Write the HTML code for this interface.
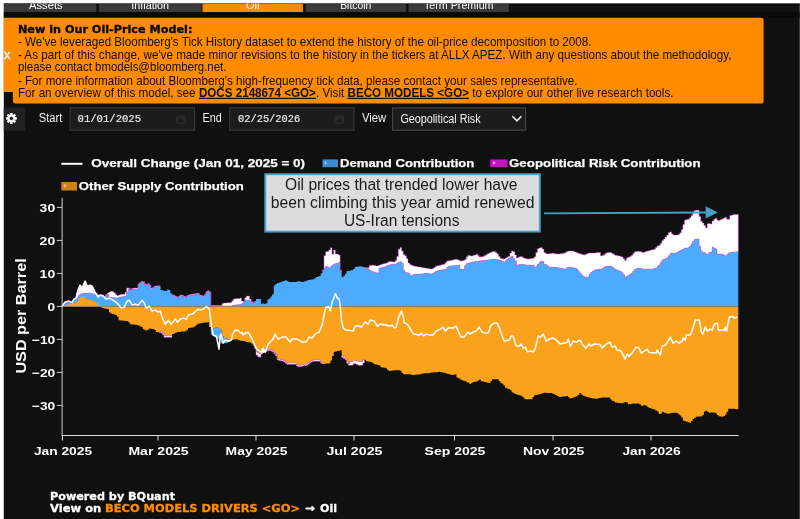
<!DOCTYPE html>
<html><head><meta charset="utf-8"><title>Oil-Price Model</title>
<style>
html,body{margin:0;padding:0;background:#fff;}
body{width:800px;height:519px;overflow:hidden;position:relative;font-family:"Liberation Sans",sans-serif;}
svg{position:absolute;left:0;top:0;display:block}
.b{font-family:"Liberation Sans",sans-serif;font-weight:bold;fill:#fff}
.v{font-family:"DejaVu Sans","Liberation Sans",sans-serif;font-weight:bold}
.t{font-family:"Liberation Sans",sans-serif;fill:#0c0c0c;font-size:11.85px}
.m{font-family:"Liberation Mono",monospace;fill:#ececec;stroke:#ececec;stroke-width:0.2px;font-size:10.6px}
.u{font-family:"Liberation Sans",sans-serif;fill:#f2f2f2;font-size:12.3px}
</style></head><body>
<svg width="800" height="519" viewBox="0 0 800 519">
<rect x="0" y="0" width="800" height="519" fill="#fff"/>
<rect x="3.8" y="3.6" width="796" height="516" fill="#101010"/>

<g id="tabs">
<rect x="3.8" y="3.6" width="796" height="1.2" fill="#050505"/>
<clipPath id="ct"><rect x="3.8" y="3.6" width="796" height="9"/></clipPath><g clip-path="url(#ct)">
<rect x="3.8" y="3.6" width="92.4" height="8.7" fill="#3a3a3a"/>
<text x="29.0" y="8.6" textLength="33.7" lengthAdjust="spacingAndGlyphs" font-family="Liberation Sans, sans-serif" font-size="11.5" fill="#fff">Assets</text>
<rect x="98.9" y="3.6" width="102.6" height="8.7" fill="#3a3a3a"/>
<text x="131.3" y="8.6" textLength="37.7" lengthAdjust="spacingAndGlyphs" font-family="Liberation Sans, sans-serif" font-size="11.5" fill="#fff">Inflation</text>
<rect x="202.5" y="3.6" width="100.4" height="8.7" fill="#ff8c00"/>
<text x="246.0" y="8.6" textLength="13.3" lengthAdjust="spacingAndGlyphs" font-family="Liberation Sans, sans-serif" font-size="11.5" fill="#fff">Oil</text>
<rect x="305.6" y="3.6" width="100.2" height="8.7" fill="#3a3a3a"/>
<text x="340.2" y="8.6" textLength="31.1" lengthAdjust="spacingAndGlyphs" font-family="Liberation Sans, sans-serif" font-size="11.5" fill="#fff">Bitcoin</text>
<rect x="408.5" y="3.6" width="100.5" height="8.7" fill="#3a3a3a"/>
<text x="424.0" y="8.6" textLength="69.5" lengthAdjust="spacingAndGlyphs" font-family="Liberation Sans, sans-serif" font-size="11.5" fill="#fff">Term Premium</text>
</g>
<rect x="3.8" y="12.3" width="796" height="5.4" fill="#0a0a0a"/>
</g>
<path d="M3.8,17.8 H761 Q763.6,17.8 763.6,20.4 V100.9 Q763.6,103.5 761,103.5 H15.6 Q12.9,103.5 12.9,100.8 V92 H3.8 Z" fill="#ff8c00"/>
<clipPath id="cx"><rect x="3.8" y="17" width="20" height="80"/></clipPath>
<text clip-path="url(#cx)" x="3.9" y="59.1" font-family="Liberation Sans, sans-serif" font-size="12.6" fill="#fff" stroke="#fff" stroke-width="0.3">x</text>
<text class="v" x="17.9" y="32.7" font-size="11.2" fill="#0a0a0a" stroke="#0a0a0a" stroke-width="0.35" textLength="174.5" lengthAdjust="spacingAndGlyphs">New in Our Oil-Price Model:</text>
<text class="t" x="17.9" y="45.7" textLength="573.6" lengthAdjust="spacingAndGlyphs">- We've leveraged Bloomberg's Tick History dataset to extend the history of the oil-price decomposition to 2008.</text>
<text class="t" x="17.9" y="59.4" textLength="713.6" lengthAdjust="spacingAndGlyphs">- As part of this change, we've made minor revisions to the history in the tickers at ALLX APEZ. With any questions about the methodology,</text>
<text class="t" x="17.9" y="70.8" textLength="208.6" lengthAdjust="spacingAndGlyphs">please contact bmodels@bloomberg.net.</text>
<text class="t" x="17.9" y="84.9" textLength="559.6" lengthAdjust="spacingAndGlyphs">- For more information about Bloomberg's high-frequency tick data, please contact your sales representative.</text>
<text class="t" x="17.9" y="96.8" textLength="177.7" lengthAdjust="spacingAndGlyphs">For an overview of this model, see</text>
<text class="t" x="198.9" y="96.8" font-weight="bold" text-decoration="underline" textLength="117" lengthAdjust="spacingAndGlyphs">DOCS 2148674 &lt;GO&gt;</text>
<text class="t" x="316" y="96.8" textLength="28.2" lengthAdjust="spacingAndGlyphs">. Visit</text>
<text class="t" x="347.5" y="96.8" font-weight="bold" text-decoration="underline" textLength="121.5" lengthAdjust="spacingAndGlyphs">BECO MODELS &lt;GO&gt;</text>
<text class="t" x="472.3" y="96.8" textLength="201.2" lengthAdjust="spacingAndGlyphs">to explore our other live research tools.</text>
<g id="controls">
<rect x="3.8" y="107.7" width="21.4" height="22.8" fill="#222"/>
<g fill="#f4f4f4"><rect x="10.25" y="113.10" width="2.3" height="10.6" rx="0.5" transform="rotate(0 11.4 118.4)"/><rect x="10.25" y="113.10" width="2.3" height="10.6" rx="0.5" transform="rotate(45 11.4 118.4)"/><rect x="10.25" y="113.10" width="2.3" height="10.6" rx="0.5" transform="rotate(90 11.4 118.4)"/><rect x="10.25" y="113.10" width="2.3" height="10.6" rx="0.5" transform="rotate(135 11.4 118.4)"/><rect x="10.25" y="113.10" width="2.3" height="10.6" rx="0.5" transform="rotate(180 11.4 118.4)"/><rect x="10.25" y="113.10" width="2.3" height="10.6" rx="0.5" transform="rotate(225 11.4 118.4)"/><rect x="10.25" y="113.10" width="2.3" height="10.6" rx="0.5" transform="rotate(270 11.4 118.4)"/><rect x="10.25" y="113.10" width="2.3" height="10.6" rx="0.5" transform="rotate(315 11.4 118.4)"/><circle cx="11.4" cy="118.4" r="3.9"/></g><circle cx="11.4" cy="118.4" r="1.7" fill="#222"/>
<text class="u" x="38.8" y="121.7" textLength="23.6" lengthAdjust="spacingAndGlyphs">Start</text>
<rect x="70.2" y="107.8" width="124.4" height="22.4" fill="#1c1c1c" stroke="#3d3d3d" stroke-width="1"/>
<text class="m" x="77.6" y="122.3" textLength="63.4" lengthAdjust="spacingAndGlyphs">01/01/2025</text>
<g stroke="#2e2e2e" fill="none" stroke-width="1.4"><rect x="176.9" y="116.1" width="7.2" height="7" rx="1"/><line x1="176.9" y1="117.89999999999999" x2="184.1" y2="117.89999999999999"/></g>
<text class="u" x="202.5" y="121.7" textLength="19.2" lengthAdjust="spacingAndGlyphs">End</text>
<rect x="229.8" y="107.8" width="124.2" height="22.4" fill="#1c1c1c" stroke="#3d3d3d" stroke-width="1"/>
<text class="m" x="238" y="122.3" textLength="62.2" lengthAdjust="spacingAndGlyphs">02/25/2026</text>
<g stroke="#2e2e2e" fill="none" stroke-width="1.4"><rect x="336.0" y="116.1" width="7.2" height="7" rx="1"/><line x1="336.0" y1="117.89999999999999" x2="343.20000000000005" y2="117.89999999999999"/></g>
<text class="u" x="361.9" y="121.7" textLength="24.2" lengthAdjust="spacingAndGlyphs">View</text>
<rect x="392.6" y="107.9" width="133" height="22.3" fill="#1c1c1c" stroke="#4a4a4a" stroke-width="1"/>
<text x="400.4" y="123" font-family="Liberation Sans, sans-serif" font-size="12" fill="#f2f2f2" textLength="80.2" lengthAdjust="spacingAndGlyphs">Geopolitical Risk</text>
<path d="M512.4,116.3 L516.9,120.9 L521.4,116.3" fill="none" stroke="#f4f4f4" stroke-width="1.6"/>
</g>
<g id="chart">
<path d="M62.0,305.2H63.6V303.2H65.2V302.2H66.9V301.8H68.5V301.6H70.1V302.4H71.7V302.1H73.3V299.7H74.9V299.2H76.6V297.8H78.2V295.7H79.8V294.0H81.4V293.7H83.0V293.3H84.6V293.1H86.3V293.1H87.9V293.1H89.5V293.1H91.1V293.5H92.7V293.9H94.3V294.8H96.0V295.9H97.6V296.0H99.2V295.7H100.8V295.4H102.4V295.9H104.0V296.8H105.7V295.8H107.3V294.6H108.9V297.3H110.5V297.6H112.1V297.7H113.7V297.7H115.4V297.9H117.0V297.9H118.6V297.3H120.2V297.0H121.8V296.7H123.4V296.4H125.1V296.1H126.7V291.9H128.3V288.7H129.9V290.5H131.5V289.4H133.1V288.9H134.8V288.9H136.4V288.9H138.0V284.8H139.6V283.2H141.2V282.4H142.9V282.5H144.5V284.6H146.1V285.4H147.7V284.3H149.3V285.7H150.9V288.9H152.6V288.2H154.2V286.8H155.8V286.7H157.4V286.6H159.0V285.7H160.6V290.1H162.3V290.4H163.9V290.8H165.5V291.0H167.1V289.6H168.7V289.9H170.3V293.6H172.0V295.6H173.6V296.4H175.2V297.1H176.8V297.7H178.4V297.1H180.0V295.7H181.7V296.0H183.3V297.1H184.9V297.6H186.5V296.6H188.1V295.8H189.7V295.4H191.4V295.1H193.0V294.8H194.6V294.5H196.2V294.1H197.8V294.2H199.4V295.8H201.1V296.3H202.7V296.7H204.3V295.4H205.9V292.7H207.5V291.8H209.1V292.8H210.8V306.1H212.4V306.1H214.0V306.1H215.6V306.1H217.2V306.1H218.8V306.1H220.5V306.1H222.1V306.1H223.7V306.1H225.3V306.1H226.9V306.1H228.6V306.1H230.2V306.1H231.8V305.6H233.4V305.0H235.0V304.9H236.6V304.8H238.3V304.7H239.9V304.5H241.5V303.8H243.1V302.0H244.7V300.1H246.3V300.1H248.0V300.1H249.6V300.9H251.2V303.3H252.8V303.7H254.4V300.9H256.0V299.1H257.7V299.1H259.3V299.1H260.9V303.9H262.5V303.4H264.1V304.0H265.7V303.3H267.4V299.4H269.0V298.4H270.6V296.5H272.2V294.3H273.8V285.6H275.4V284.0H277.1V282.9H278.7V282.4H280.3V281.9H281.9V281.5H283.5V281.0H285.1V280.2H286.8V281.0H288.4V282.0H290.0V282.1H291.6V282.1H293.2V282.1H294.8V282.1H296.5V281.5H298.1V281.2H299.7V281.6H301.3V282.0H302.9V281.7H304.5V281.3H306.2V280.7H307.8V280.0H309.4V279.7H311.0V279.5H312.6V279.2H314.3V278.3H315.9V276.9H317.5V276.5H319.1V276.1H320.7V273.6H322.3V270.7H324.0V268.1H325.6V266.3H327.2V267.1H328.8V267.9H330.4V266.4H332.0V264.9H333.7V264.2H335.3V263.6H336.9V263.0H338.5V262.5H340.1V271.6H341.7V276.9H343.4V275.8H345.0V273.8H346.6V271.1H348.2V270.9H349.8V270.6H351.4V270.3H353.1V269.1H354.7V267.1H356.3V266.8H357.9V266.5H359.5V266.2H361.1V266.6H362.8V267.0H364.4V267.8H366.0V268.2H367.6V269.0H369.2V270.5H370.8V271.2H372.5V271.8H374.1V272.4H375.7V272.8H377.3V273.2H378.9V268.1H380.5V267.7H382.2V267.4H383.8V267.0H385.4V266.2H387.0V265.4H388.6V264.9H390.3V264.5H391.9V264.2H393.5V264.2H395.1V264.2H396.7V263.2H398.3V262.0H400.0V261.7H401.6V263.3H403.2V270.1H404.8V272.5H406.4V272.8H408.0V273.1H409.7V275.0H411.3V275.7H412.9V274.6H414.5V274.2H416.1V274.2H417.7V274.2H419.4V274.2H421.0V273.9H422.6V273.7H424.2V273.4H425.8V273.2H427.4V273.5H429.1V273.8H430.7V274.0H432.3V273.6H433.9V272.4H435.5V271.2H437.1V270.8H438.8V270.4H440.4V270.0H442.0V269.8H443.6V269.5H445.2V269.2H446.8V267.2H448.5V266.1H450.1V265.9H451.7V265.8H453.3V265.7H454.9V265.5H456.5V265.4H458.2V265.2H459.8V269.2H461.4V269.2H463.0V269.2H464.6V265.7H466.3V263.8H467.9V263.3H469.5V262.8H471.1V262.2H472.7V261.9H474.3V261.6H476.0V261.4H477.6V261.1H479.2V260.9H480.8V260.7H482.4V260.5H484.0V260.3H485.7V260.1H487.3V259.9H488.9V259.7H490.5V259.5H492.1V259.3H493.7V259.2H495.4V259.5H497.0V259.8H498.6V260.0H500.2V260.6H501.8V261.4H503.4V262.1H505.1V260.8H506.7V259.5H508.3V258.2H509.9V257.1H511.5V256.3H513.1V258.5H514.8V261.1H516.4V265.1H518.0V264.8H519.6V264.5H521.2V264.2H522.8V264.5H524.5V264.9H526.1V265.2H527.7V265.2H529.3V265.2H530.9V265.2H532.5V265.2H534.2V267.4H535.8V266.4H537.4V264.2H539.0V262.6H540.6V261.0H542.2V261.8H543.9V264.3H545.5V264.8H547.1V265.8H548.7V267.2H550.3V267.2H552.0V267.2H553.6V267.2H555.2V267.5H556.8V267.7H558.4V268.0H560.0V268.3H561.7V268.6H563.3V268.9H564.9V268.9H566.5V267.8H568.1V267.2H569.7V267.4H571.4V267.6H573.0V267.9H574.6V268.1H576.2V269.1H577.8V271.2H579.4V273.1H581.1V274.7H582.7V276.3H584.3V277.2H585.9V277.2H587.5V277.2H589.1V274.0H590.8V272.3H592.4V271.1H594.0V270.1H595.6V269.8H597.2V269.5H598.8V269.3H600.5V269.3H602.1V268.3H603.7V267.4H605.3V266.6H606.9V266.2H608.5V266.2H610.2V266.2H611.8V267.3H613.4V268.5H615.0V269.5H616.6V270.1H618.2V270.8H619.9V271.6H621.5V272.7H623.1V274.8H624.7V277.0H626.3V276.2H627.9V275.4H629.6V274.3H631.2V273.3H632.8V271.2H634.4V269.1H636.0V268.7H637.7V268.3H639.3V268.4H640.9V268.8H642.5V269.2H644.1V269.2H645.7V269.2H647.4V269.2H649.0V269.2H650.6V269.2H652.2V269.0H653.8V268.6H655.4V268.1H657.1V266.5H658.7V264.9H660.3V262.3H661.9V259.9H663.5V259.3H665.1V258.6H666.8V257.7H668.4V255.7H670.0V253.6H671.6V253.1H673.2V253.1H674.8V253.1H676.5V252.5H678.1V251.5H679.7V250.6H681.3V249.7H682.9V248.9H684.5V248.1H686.2V247.9H687.8V247.8H689.4V246.3H691.0V243.8H692.6V241.5H694.2V239.4H695.9V239.1H697.5V239.1H699.1V246.1H700.7V251.1H702.3V252.4H703.9V252.8H705.6V254.1H707.2V253.9H708.8V252.3H710.4V252.5H712.0V247.2H713.7V248.1H715.3V249.0H716.9V254.1H718.5V254.1H720.1V254.1H721.7V254.2H723.4V255.1H725.0V255.9H726.6V254.6H728.2V253.0H729.8V252.6H731.4V252.2H733.1V252.0H734.7V251.9H736.3V251.8H737.9V251.7H738.3V306.4H737.9V306.4H736.3V306.4H734.7V306.4H733.1V306.4H731.4V306.4H729.8V306.4H728.2V306.4H726.6V306.4H725.0V306.4H723.4V306.4H721.7V306.4H720.1V306.4H718.5V306.4H716.9V306.4H715.3V306.4H713.7V306.4H712.0V306.4H710.4V306.4H708.8V306.4H707.2V306.4H705.6V306.4H703.9V306.4H702.3V306.4H700.7V306.4H699.1V306.4H697.5V306.4H695.9V306.4H694.2V306.4H692.6V306.4H691.0V306.4H689.4V306.4H687.8V306.4H686.2V306.4H684.5V306.4H682.9V306.4H681.3V306.4H679.7V306.4H678.1V306.4H676.5V306.4H674.8V306.4H673.2V306.4H671.6V306.4H670.0V306.4H668.4V306.4H666.8V306.4H665.1V306.4H663.5V306.4H661.9V306.4H660.3V306.4H658.7V306.4H657.1V306.4H655.4V306.4H653.8V306.4H652.2V306.4H650.6V306.4H649.0V306.4H647.4V306.4H645.7V306.4H644.1V306.4H642.5V306.4H640.9V306.4H639.3V306.4H637.7V306.4H636.0V306.4H634.4V306.4H632.8V306.4H631.2V306.4H629.6V306.4H627.9V306.4H626.3V306.4H624.7V306.4H623.1V306.4H621.5V306.4H619.9V306.4H618.2V306.4H616.6V306.4H615.0V306.4H613.4V306.4H611.8V306.4H610.2V306.4H608.5V306.4H606.9V306.4H605.3V306.4H603.7V306.4H602.1V306.4H600.5V306.4H598.8V306.4H597.2V306.4H595.6V306.4H594.0V306.4H592.4V306.4H590.8V306.4H589.1V306.4H587.5V306.4H585.9V306.4H584.3V306.4H582.7V306.4H581.1V306.4H579.4V306.4H577.8V306.4H576.2V306.4H574.6V306.4H573.0V306.4H571.4V306.4H569.7V306.4H568.1V306.4H566.5V306.4H564.9V306.4H563.3V306.4H561.7V306.4H560.0V306.4H558.4V306.4H556.8V306.4H555.2V306.4H553.6V306.4H552.0V306.4H550.3V306.4H548.7V306.4H547.1V306.4H545.5V306.4H543.9V306.4H542.2V306.4H540.6V306.4H539.0V306.4H537.4V306.4H535.8V306.4H534.2V306.4H532.5V306.4H530.9V306.4H529.3V306.4H527.7V306.4H526.1V306.4H524.5V306.4H522.8V306.4H521.2V306.4H519.6V306.4H518.0V306.4H516.4V306.4H514.8V306.4H513.1V306.4H511.5V306.4H509.9V306.4H508.3V306.4H506.7V306.4H505.1V306.4H503.4V306.4H501.8V306.4H500.2V306.4H498.6V306.4H497.0V306.4H495.4V306.4H493.7V306.4H492.1V306.4H490.5V306.4H488.9V306.4H487.3V306.4H485.7V306.4H484.0V306.4H482.4V306.4H480.8V306.4H479.2V306.4H477.6V306.4H476.0V306.4H474.3V306.4H472.7V306.4H471.1V306.4H469.5V306.4H467.9V306.4H466.3V306.4H464.6V306.4H463.0V306.4H461.4V306.4H459.8V306.4H458.2V306.4H456.5V306.4H454.9V306.4H453.3V306.4H451.7V306.4H450.1V306.4H448.5V306.4H446.8V306.4H445.2V306.4H443.6V306.4H442.0V306.4H440.4V306.4H438.8V306.4H437.1V306.4H435.5V306.4H433.9V306.4H432.3V306.4H430.7V306.4H429.1V306.4H427.4V306.4H425.8V306.4H424.2V306.4H422.6V306.4H421.0V306.4H419.4V306.4H417.7V306.4H416.1V306.4H414.5V306.4H412.9V306.4H411.3V306.4H409.7V306.4H408.0V306.4H406.4V306.4H404.8V306.4H403.2V306.4H401.6V306.4H400.0V306.4H398.3V306.4H396.7V306.4H395.1V306.4H393.5V306.4H391.9V306.4H390.3V306.4H388.6V306.4H387.0V306.4H385.4V306.4H383.8V306.4H382.2V306.4H380.5V306.4H378.9V306.4H377.3V306.4H375.7V306.4H374.1V306.4H372.5V306.4H370.8V306.4H369.2V306.4H367.6V306.4H366.0V306.4H364.4V306.4H362.8V306.4H361.1V306.4H359.5V306.4H357.9V306.4H356.3V306.4H354.7V306.4H353.1V306.4H351.4V306.4H349.8V306.4H348.2V306.4H346.6V306.4H345.0V306.4H343.4V306.4H341.7V306.4H340.1V306.4H338.5V306.4H336.9V306.4H335.3V306.4H333.7V306.4H332.0V306.4H330.4V306.4H328.8V306.4H327.2V306.4H325.6V306.4H324.0V306.4H322.3V306.4H320.7V306.4H319.1V306.4H317.5V306.4H315.9V306.4H314.3V306.4H312.6V306.4H311.0V306.4H309.4V306.4H307.8V306.4H306.2V306.4H304.5V306.4H302.9V306.4H301.3V306.4H299.7V306.4H298.1V306.4H296.5V306.4H294.8V306.4H293.2V306.4H291.6V306.4H290.0V306.4H288.4V306.4H286.8V306.4H285.1V306.4H283.5V306.4H281.9V306.4H280.3V306.4H278.7V306.4H277.1V306.4H275.4V306.4H273.8V306.4H272.2V306.4H270.6V306.4H269.0V306.4H267.4V306.4H265.7V306.4H264.1V306.4H262.5V306.4H260.9V306.4H259.3V306.4H257.7V306.4H256.0V306.4H254.4V306.4H252.8V306.4H251.2V306.4H249.6V306.4H248.0V306.4H246.3V306.4H244.7V306.4H243.1V306.4H241.5V306.4H239.9V306.4H238.3V306.4H236.6V306.4H235.0V306.4H233.4V306.4H231.8V306.4H230.2V306.4H228.6V306.4H226.9V306.4H225.3V306.4H223.7V306.4H222.1V306.4H220.5V306.4H218.8V306.4H217.2V306.4H215.6V306.4H214.0V306.4H212.4V306.4H210.8V306.4H209.1V306.4H207.5V306.4H205.9V306.4H204.3V306.4H202.7V306.4H201.1V306.4H199.4V306.4H197.8V306.4H196.2V306.4H194.6V306.4H193.0V306.4H191.4V306.4H189.7V306.4H188.1V306.4H186.5V306.4H184.9V306.4H183.3V306.4H181.7V306.4H180.0V306.4H178.4V306.4H176.8V306.4H175.2V306.4H173.6V306.4H172.0V306.4H170.3V306.4H168.7V306.4H167.1V306.4H165.5V306.4H163.9V306.4H162.3V306.4H160.6V306.4H159.0V306.4H157.4V306.4H155.8V306.4H154.2V306.4H152.6V306.4H150.9V306.4H149.3V306.4H147.7V306.4H146.1V306.4H144.5V306.4H142.9V306.4H141.2V306.4H139.6V306.4H138.0V306.4H136.4V306.4H134.8V306.4H133.1V306.4H131.5V306.4H129.9V306.4H128.3V306.4H126.7V306.4H125.1V306.4H123.4V306.4H121.8V306.4H120.2V306.4H118.6V306.4H117.0V306.4H115.4V306.4H113.7V306.4H112.1V306.4H110.5V306.4H108.9V306.4H107.3V306.4H105.7V306.4H104.0V306.4H102.4V306.4H100.8V306.4H99.2V306.4H97.6V306.4H96.0V306.4H94.3V306.4H92.7V306.4H91.1V306.4H89.5V306.4H87.9V306.4H86.3V306.4H84.6V306.4H83.0V306.4H81.4V306.4H79.8V306.4H78.2V306.4H76.6V306.4H74.9V306.4H73.3V306.4H71.7V306.4H70.1V306.4H68.5V306.4H66.9V306.4H65.2V306.4H63.6V306.4H62.0Z" fill="#4daaff"/>
<path d="M210.8,329.1H212.4V328.6H214.0V328.0H215.6V327.5H217.2V327.7H218.8V328.9H220.5V330.5H222.1V336.3H223.7V337.9H225.3V338.5H226.9V339.0H228.6V339.6H230.2V340.2H231.8V341.1H230.2V341.8H228.6V342.5H226.9V343.2H225.3V343.2H223.7V343.2H222.1V343.2H220.5V340.4H218.8V338.7H217.2V337.9H215.6V337.0H214.0V336.0H212.4V334.8H210.8Z" fill="#4daaff"/>
<path d="M62.0,305.9H63.6V305.5H65.2V305.0H66.9V304.6H68.5V304.2H70.1V303.8H71.7V303.5H73.3V303.1H74.9V302.3H76.6V301.4H78.2V299.5H79.8V296.9H81.4V296.5H83.0V297.0H84.6V298.0H86.3V299.1H87.9V299.6H89.5V300.2H91.1V300.6H92.7V301.0H94.3V301.8H96.0V302.9H97.6V305.2H99.2V306.4H100.8V306.4H102.4V306.4H104.0V306.4H105.7V306.4H107.3V306.4H108.9V306.4H110.5V306.4H112.1V306.4H113.7V306.4H115.4V306.4H117.0V306.4H118.6V306.4H120.2V306.4H121.8V306.4H123.4V306.4H125.1V306.4H126.7V306.4H128.3V306.4H129.9V306.4H131.5V306.4H133.1V306.4H134.8V306.4H136.4V306.4H138.0V306.4H139.6V306.4H141.2V306.4H142.9V306.4H144.5V306.4H146.1V306.4H147.7V306.4H149.3V306.4H150.9V306.4H152.6V306.4H154.2V306.4H155.8V306.4H157.4V306.4H159.0V306.4H160.6V306.4H162.3V306.4H163.9V306.4H165.5V306.4H167.1V306.4H168.7V306.4H170.3V306.4H172.0V306.4H173.6V306.4H175.2V306.4H176.8V306.4H178.4V306.4H180.0V306.4H181.7V306.4H183.3V306.4H184.9V306.4H186.5V306.4H188.1V306.4H189.7V306.4H191.4V306.4H193.0V306.4H194.6V306.4H196.2V306.4H197.8V306.4H199.4V306.4H201.1V306.4H202.7V306.4H204.3V306.4H205.9V306.4H207.5V306.4H209.1V306.4H210.8V306.4H212.4V306.4H214.0V306.4H215.6V306.4H217.2V306.4H218.8V306.4H220.5V306.4H222.1V306.4H223.7V306.4H225.3V306.4H226.9V306.4H228.6V306.4H230.2V306.4H231.8V306.4H233.4V306.4H235.0V306.4H236.6V306.4H238.3V306.4H239.9V306.4H241.5V306.4H243.1V306.4H244.7V306.4H246.3V306.4H248.0V306.4H249.6V306.4H251.2V306.4H252.8V306.4H254.4V306.4H256.0V306.4H257.7V306.4H259.3V306.4H260.9V306.4H262.5V306.4H264.1V306.4H265.7V306.4H267.4V306.4H269.0V306.4H270.6V306.4H272.2V306.4H273.8V306.4H275.4V306.4H277.1V306.4H278.7V306.4H280.3V306.4H281.9V306.4H283.5V306.4H285.1V306.4H286.8V306.4H288.4V306.4H290.0V306.4H291.6V306.4H293.2V306.4H294.8V306.4H296.5V306.4H298.1V306.4H299.7V306.4H301.3V306.4H302.9V306.4H304.5V306.4H306.2V306.4H307.8V306.4H309.4V306.4H311.0V306.4H312.6V306.4H314.3V306.4H315.9V306.4H317.5V306.4H319.1V306.4H320.7V306.4H322.3V306.4H324.0V306.4H325.6V306.4H327.2V306.4H328.8V306.4H330.4V306.4H332.0V306.4H333.7V306.4H335.3V306.4H336.9V306.4H338.5V306.4H340.1V306.4H341.7V306.4H343.4V306.4H345.0V306.4H346.6V306.4H348.2V306.4H349.8V306.4H351.4V306.4H353.1V306.4H354.7V306.4H356.3V306.4H357.9V306.4H359.5V306.4H361.1V306.4H362.8V306.4H364.4V306.4H366.0V306.4H367.6V306.4H369.2V306.4H370.8V306.4H372.5V306.4H374.1V306.4H375.7V306.4H377.3V306.4H378.9V306.4H380.5V306.4H382.2V306.4H383.8V306.4H385.4V306.4H387.0V306.4H388.6V306.4H390.3V306.4H391.9V306.4H393.5V306.4H395.1V306.4H396.7V306.4H398.3V306.4H400.0V306.4H401.6V306.4H403.2V306.4H404.8V306.4H406.4V306.4H408.0V306.4H409.7V306.4H411.3V306.4H412.9V306.4H414.5V306.4H416.1V306.4H417.7V306.4H419.4V306.4H421.0V306.4H422.6V306.4H424.2V306.4H425.8V306.4H427.4V306.4H429.1V306.4H430.7V306.4H432.3V306.4H433.9V306.4H435.5V306.4H437.1V306.4H438.8V306.4H440.4V306.4H442.0V306.4H443.6V306.4H445.2V306.4H446.8V306.4H448.5V306.4H450.1V306.4H451.7V306.4H453.3V306.4H454.9V306.4H456.5V306.4H458.2V306.4H459.8V306.4H461.4V306.4H463.0V306.4H464.6V306.4H466.3V306.4H467.9V306.4H469.5V306.4H471.1V306.4H472.7V306.4H474.3V306.4H476.0V306.4H477.6V306.4H479.2V306.4H480.8V306.4H482.4V306.4H484.0V306.4H485.7V306.4H487.3V306.4H488.9V306.4H490.5V306.4H492.1V306.4H493.7V306.4H495.4V306.4H497.0V306.4H498.6V306.4H500.2V306.4H501.8V306.4H503.4V306.4H505.1V306.4H506.7V306.4H508.3V306.4H509.9V306.4H511.5V306.4H513.1V306.4H514.8V306.4H516.4V306.4H518.0V306.4H519.6V306.4H521.2V306.4H522.8V306.4H524.5V306.4H526.1V306.4H527.7V306.4H529.3V306.4H530.9V306.4H532.5V306.4H534.2V306.4H535.8V306.4H537.4V306.4H539.0V306.4H540.6V306.4H542.2V306.4H543.9V306.4H545.5V306.4H547.1V306.4H548.7V306.4H550.3V306.4H552.0V306.4H553.6V306.4H555.2V306.4H556.8V306.4H558.4V306.4H560.0V306.4H561.7V306.4H563.3V306.4H564.9V306.4H566.5V306.4H568.1V306.4H569.7V306.4H571.4V306.4H573.0V306.4H574.6V306.4H576.2V306.4H577.8V306.4H579.4V306.4H581.1V306.4H582.7V306.4H584.3V306.4H585.9V306.4H587.5V306.4H589.1V306.4H590.8V306.4H592.4V306.4H594.0V306.4H595.6V306.4H597.2V306.4H598.8V306.4H600.5V306.4H602.1V306.4H603.7V306.4H605.3V306.4H606.9V306.4H608.5V306.4H610.2V306.4H611.8V306.4H613.4V306.4H615.0V306.4H616.6V306.4H618.2V306.4H619.9V306.4H621.5V306.4H623.1V306.4H624.7V306.4H626.3V306.4H627.9V306.4H629.6V306.4H631.2V306.4H632.8V306.4H634.4V306.4H636.0V306.4H637.7V306.4H639.3V306.4H640.9V306.4H642.5V306.4H644.1V306.4H645.7V306.4H647.4V306.4H649.0V306.4H650.6V306.4H652.2V306.4H653.8V306.4H655.4V306.4H657.1V306.4H658.7V306.4H660.3V306.4H661.9V306.4H663.5V306.4H665.1V306.4H666.8V306.4H668.4V306.4H670.0V306.4H671.6V306.4H673.2V306.4H674.8V306.4H676.5V306.4H678.1V306.4H679.7V306.4H681.3V306.4H682.9V306.4H684.5V306.4H686.2V306.4H687.8V306.4H689.4V306.4H691.0V306.4H692.6V306.4H694.2V306.4H695.9V306.4H697.5V306.4H699.1V306.4H700.7V306.4H702.3V306.4H703.9V306.4H705.6V306.4H707.2V306.4H708.8V306.4H710.4V306.4H712.0V306.4H713.7V306.4H715.3V306.4H716.9V306.4H718.5V306.4H720.1V306.4H721.7V306.4H723.4V306.4H725.0V306.4H726.6V306.4H728.2V306.4H729.8V306.4H731.4V306.4H733.1V306.4H734.7V306.4H736.3V306.4H737.9V306.4H738.3V409.3H737.9V409.2H736.3V409.0H734.7V408.8H733.1V408.7H731.4V408.7H729.8V408.7H728.2V411.8H726.6V414.5H725.0V415.9H723.4V416.7H721.7V416.5H720.1V416.2H718.5V415.1H716.9V413.2H715.3V412.4H713.7V412.5H712.0V412.6H710.4V412.7H708.8V411.7H707.2V410.8H705.6V411.4H703.9V415.1H702.3V416.3H700.7V416.4H699.1V416.6H697.5V416.7H695.9V417.7H694.2V418.9H692.6V420.9H691.0V422.8H689.4V422.2H687.8V421.7H686.2V421.2H684.5V420.6H682.9V417.4H681.3V415.4H679.7V414.2H678.1V413.0H676.5V412.8H674.8V412.8H673.2V412.8H671.6V413.2H670.0V413.6H668.4V413.7H666.8V413.1H665.1V412.4H663.5V411.8H661.9V413.5H660.3V414.0H658.7V411.6H657.1V410.5H655.4V409.5H653.8V409.0H652.2V408.5H650.6V408.1H649.0V407.2H647.4V405.8H645.7V405.0H644.1V405.4H642.5V405.8H640.9V404.2H639.3V403.6H637.7V403.5H636.0V403.4H634.4V403.4H632.8V403.7H631.2V403.9H629.6V404.2H627.9V402.4H626.3V402.0H624.7V402.8H623.1V403.2H621.5V403.1H619.9V402.9H618.2V402.7H616.6V402.4H615.0V401.6H613.4V400.8H611.8V399.4H610.2V397.4H608.5V397.4H606.9V397.4H605.3V397.4H603.7V397.4H602.1V397.7H600.5V398.1H598.8V398.4H597.2V398.7H595.6V398.6H594.0V398.4H592.4V398.1H590.8V397.7H589.1V397.2H587.5V396.8H585.9V396.3H584.3V395.8H582.7V394.4H581.1V393.0H579.4V395.1H577.8V396.2H576.2V396.8H574.6V397.4H573.0V398.0H571.4V398.6H569.7V397.2H568.1V396.0H566.5V396.2H564.9V396.4H563.3V396.6H561.7V396.9H560.0V396.7H558.4V395.9H556.8V395.1H555.2V394.3H553.6V393.4H552.0V393.1H550.3V393.0H548.7V392.9H547.1V392.8H545.5V392.7H543.9V393.1H542.2V393.8H540.6V394.3H539.0V394.6H537.4V394.9H535.8V395.1H534.2V397.1H532.5V399.2H530.9V399.2H529.3V399.2H527.7V399.2H526.1V399.2H524.5V397.6H522.8V396.2H521.2V395.6H519.6V395.1H518.0V394.6H516.4V393.9H514.8V393.1H513.1V392.3H511.5V390.0H509.9V388.9H508.3V388.5H506.7V387.8H505.1V385.6H503.4V383.8H501.8V382.7H500.2V381.0H498.6V379.2H497.0V379.2H495.4V379.2H493.7V379.2H492.1V380.9H490.5V383.1H488.9V382.7H487.3V382.3H485.7V381.9H484.0V381.6H482.4V381.3H480.8V379.5H479.2V380.5H477.6V381.5H476.0V381.8H474.3V382.1H472.7V383.0H471.1V384.1H469.5V382.8H467.9V381.9H466.3V381.3H464.6V380.8H463.0V380.2H461.4V379.3H459.8V378.3H458.2V377.4H456.5V374.3H454.9V374.7H453.3V375.1H451.7V374.8H450.1V374.3H448.5V373.7H446.8V373.2H445.2V372.8H443.6V372.4H442.0V372.0H440.4V371.8H438.8V372.0H437.1V372.2H435.5V372.3H433.9V372.5H432.3V372.6H430.7V372.9H429.1V373.2H427.4V373.2H425.8V373.2H424.2V373.4H422.6V373.8H421.0V374.2H419.4V374.4H417.7V374.6H416.1V374.8H414.5V375.0H412.9V375.1H411.3V374.2H409.7V374.2H408.0V374.2H406.4V374.2H404.8V374.2H403.2V372.9H401.6V370.8H400.0V370.2H398.3V370.2H396.7V370.2H395.1V370.2H393.5V370.5H391.9V370.8H390.3V371.1H388.6V369.7H387.0V368.2H385.4V367.8H383.8V367.5H382.2V367.2H380.5V365.6H378.9V364.9H377.3V364.6H375.7V364.3H374.1V363.2H372.5V362.1H370.8V361.8H369.2V361.5H367.6V361.2H366.0V360.1H364.4V359.5H362.8V361.6H361.1V361.6H359.5V361.6H357.9V361.0H356.3V360.2H354.7V360.2H353.1V361.6H351.4V361.6H349.8V363.7H348.2V361.7H346.6V358.3H345.0V357.1H343.4V355.9H341.7V350.2H340.1V350.7H338.5V351.1H336.9V351.6H335.3V352.0H333.7V356.1H332.0V360.5H330.4V363.2H328.8V363.4H327.2V363.6H325.6V363.8H324.0V364.0H322.3V362.0H320.7V359.9H319.1V359.9H317.5V359.9H315.9V359.9H314.3V359.9H312.6V360.7H311.0V361.8H309.4V362.9H307.8V363.9H306.2V364.2H304.5V364.5H302.9V364.9H301.3V365.3H299.7V365.7H298.1V364.7H296.5V362.9H294.8V362.9H293.2V362.9H291.6V362.9H290.0V362.9H288.4V362.9H286.8V362.0H285.1V360.8H283.5V359.8H281.9V359.5H280.3V359.1H278.7V358.5H277.1V354.4H275.4V352.5H273.8V350.8H272.2V349.8H270.6V349.3H269.0V349.1H267.4V350.2H265.7V348.9H264.1V349.3H262.5V350.5H260.9V353.6H259.3V353.1H257.7V351.5H256.0V348.1H254.4V345.4H252.8V343.6H251.2V342.6H249.6V342.2H248.0V341.9H246.3V341.5H244.7V341.0H243.1V340.7H241.5V340.7H239.9V340.3H238.3V339.6H236.6V339.2H235.0V339.6H233.4V340.0H231.8V340.2H230.2V339.6H228.6V339.0H226.9V338.5H225.3V337.9H223.7V336.3H222.1V330.5H220.5V328.9H218.8V327.7H217.2V327.5H215.6V328.0H214.0V328.6H212.4V329.1H210.8V326.9H209.1V322.2H207.5V322.4H205.9V322.6H204.3V322.8H202.7V323.0H201.1V323.2H199.4V323.7H197.8V324.5H196.2V326.1H194.6V327.3H193.0V327.5H191.4V327.8H189.7V328.1H188.1V329.7H186.5V331.2H184.9V331.4H183.3V331.6H181.7V331.8H180.0V332.0H178.4V332.1H176.8V332.8H175.2V333.5H173.6V334.0H172.0V335.4H170.3V335.4H168.7V335.4H167.1V335.4H165.5V335.4H163.9V333.0H162.3V331.2H160.6V332.6H159.0V332.2H157.4V331.9H155.8V330.1H154.2V329.0H152.6V328.7H150.9V328.4H149.3V329.6H147.7V330.2H146.1V330.2H144.5V329.3H142.9V327.1H141.2V326.3H139.6V325.5H138.0V325.0H136.4V324.8H134.8V324.6H133.1V324.4H131.5V324.2H129.9V322.6H128.3V321.1H126.7V320.9H125.1V320.7H123.4V320.5H121.8V320.4H120.2V320.2H118.6V316.7H117.0V314.9H115.4V314.4H113.7V313.9H112.1V313.5H110.5V312.3H108.9V309.1H107.3V308.8H105.7V308.5H104.0V308.1H102.4V307.5H100.8V306.9H99.2V306.5H97.6V306.5H96.0V306.5H94.3V306.5H92.7V306.5H91.1V306.5H89.5V306.5H87.9V306.5H86.3V306.4H84.6V306.4H83.0V306.4H81.4V306.4H79.8V306.4H78.2V306.4H76.6V306.4H74.9V306.4H73.3V306.4H71.7V306.4H70.1V306.4H68.5V306.4H66.9V306.4H65.2V306.4H63.6V306.4H62.0Z" fill="#fba21d"/>
<path d="M62.0,305.0H63.6V302.9H65.2V301.8H66.9V301.4H68.5V301.2H70.1V302.0H71.7V301.7H73.3V299.1H74.9V298.2H76.6V292.8H78.2V287.7H79.8V285.9H81.4V287.7H83.0V283.9H84.6V282.0H86.3V286.1H87.9V285.5H89.5V285.2H91.1V286.0H92.7V289.0H94.3V292.1H96.0V293.8H97.6V295.0H99.2V294.8H100.8V294.6H102.4V295.1H104.0V296.0H105.7V294.7H107.3V293.1H108.9V291.9H110.5V291.3H112.1V291.6H113.7V292.7H115.4V294.6H117.0V295.7H118.6V294.9H120.2V294.4H121.8V294.3H123.4V294.2H125.1V292.2H126.7V287.9H128.3V287.9H129.9V289.7H131.5V288.6H133.1V288.1H134.8V288.1H136.4V288.1H138.0V284.0H139.6V282.4H141.2V281.6H142.9V281.7H144.5V283.8H146.1V284.6H147.7V283.5H149.3V284.9H150.9V288.1H152.6V287.4H154.2V286.0H155.8V285.9H157.4V285.8H159.0V286.6H157.4V286.7H155.8V286.8H154.2V288.2H152.6V288.9H150.9V285.7H149.3V284.3H147.7V285.4H146.1V284.6H144.5V282.5H142.9V282.4H141.2V283.2H139.6V284.8H138.0V288.9H136.4V288.9H134.8V288.9H133.1V289.4H131.5V290.5H129.9V288.7H128.3V291.9H126.7V296.1H125.1V296.4H123.4V296.7H121.8V297.0H120.2V297.3H118.6V297.9H117.0V297.9H115.4V297.7H113.7V297.7H112.1V297.6H110.5V297.3H108.9V294.6H107.3V295.8H105.7V296.8H104.0V295.9H102.4V295.4H100.8V295.7H99.2V296.0H97.6V295.9H96.0V294.8H94.3V293.9H92.7V293.5H91.1V293.1H89.5V293.1H87.9V293.1H86.3V293.1H84.6V293.3H83.0V293.7H81.4V294.0H79.8V295.7H78.2V297.8H76.6V299.2H74.9V299.7H73.3V302.1H71.7V302.4H70.1V301.6H68.5V301.8H66.9V302.2H65.2V303.2H63.6V305.2H62.0Z" fill="#ffffff" stroke="#e040e0" stroke-opacity="0.6" stroke-width="0.7" stroke-linejoin="miter"/>
<path d="M172.0,294.8H173.6V295.6H175.2V296.3H176.8V296.9H178.4V296.3H180.0V294.9H181.7V295.2H183.3V296.3H184.9V296.8H186.5V295.8H188.1V295.0H189.7V294.6H191.4V294.3H193.0V294.0H194.6V293.7H196.2V293.3H197.8V293.4H199.4V295.0H201.1V295.5H202.7V295.9H204.3V294.6H205.9V291.8H207.5V290.8H209.1V291.8H210.8V305.5H212.4V305.5H214.0V305.5H215.6V305.5H217.2V305.5H218.8V305.5H220.5V305.5H222.1V303.5H223.7V303.0H225.3V302.9H226.9V302.8H228.6V302.7H230.2V302.6H231.8V300.8H233.4V299.0H235.0V298.8H236.6V298.6H238.3V298.4H239.9V298.1H241.5V301.1H243.1V301.5H244.7V297.8H246.3V296.1H248.0V296.1H249.6V299.2H251.2V301.7H252.8V302.8H254.4V303.7H252.8V303.3H251.2V300.9H249.6V300.1H248.0V300.1H246.3V300.1H244.7V302.0H243.1V303.8H241.5V304.5H239.9V304.7H238.3V304.8H236.6V304.9H235.0V305.0H233.4V305.6H231.8V306.1H230.2V306.1H228.6V306.1H226.9V306.1H225.3V306.1H223.7V306.1H222.1V306.1H220.5V306.1H218.8V306.1H217.2V306.1H215.6V306.1H214.0V306.1H212.4V306.1H210.8V292.8H209.1V291.8H207.5V292.7H205.9V295.4H204.3V296.7H202.7V296.3H201.1V295.8H199.4V294.2H197.8V294.1H196.2V294.5H194.6V294.8H193.0V295.1H191.4V295.4H189.7V295.8H188.1V296.6H186.5V297.6H184.9V297.1H183.3V296.0H181.7V295.7H180.0V297.1H178.4V297.7H176.8V297.1H175.2V296.4H173.6V295.6H172.0Z" fill="#ffffff" stroke="#e040e0" stroke-opacity="0.6" stroke-width="0.7" stroke-linejoin="miter"/>
<path d="M322.3,270.1H324.0V255.7H325.6V251.8H327.2V251.4H328.8V250.0H330.4V247.7H332.0V254.2H333.7V250.1H335.3V254.1H336.9V254.1H338.5V255.0H340.1V270.5H341.7V271.6H340.1V262.5H338.5V263.0H336.9V263.6H335.3V264.2H333.7V264.9H332.0V266.4H330.4V267.9H328.8V267.1H327.2V266.3H325.6V268.1H324.0V270.7H322.3Z" fill="#ffffff" stroke="#e040e0" stroke-opacity="0.6" stroke-width="0.7" stroke-linejoin="miter"/>
<path d="M364.4,267.4H366.0V267.8H367.6V267.8H369.2V265.4H370.8V265.2H372.5V265.2H374.1V265.6H375.7V266.0H377.3V265.8H378.9V265.1H380.5V264.5H382.2V264.0H383.8V263.6H385.4V263.2H387.0V262.4H388.6V261.5H390.3V261.4H391.9V261.8H393.5V262.1H395.1V260.5H396.7V256.6H398.3V249.2H400.0V247.6H401.6V251.1H403.2V254.6H404.8V255.7H406.4V258.7H408.0V263.0H409.7V264.6H411.3V265.3H412.9V265.9H414.5V266.3H416.1V266.6H417.7V266.9H419.4V267.1H421.0V267.4H422.6V267.7H424.2V268.0H425.8V268.2H427.4V268.5H429.1V268.8H430.7V269.0H432.3V268.6H433.9V267.4H435.5V266.2H437.1V265.8H438.8V265.4H440.4V265.0H442.0V264.5H443.6V264.1H445.2V262.5H446.8V261.1H448.5V260.8H450.1V260.4H451.7V260.1H453.3V259.7H454.9V259.3H456.5V259.4H458.2V260.0H459.8V261.0H461.4V260.7H463.0V260.4H464.6V259.5H466.3V256.8H467.9V255.3H469.5V255.7H471.1V256.1H472.7V255.6H474.3V254.9H476.0V254.3H477.6V255.4H479.2V257.0H480.8V256.8H482.4V256.4H484.0V255.7H485.7V254.7H487.3V253.8H488.9V252.9H490.5V252.3H492.1V251.6H493.7V251.4H495.4V252.6H497.0V253.9H498.6V256.6H500.2V258.4H501.8V258.8H503.4V259.1H505.1V258.1H506.7V257.2H508.3V256.2H509.9V253.1H511.5V251.0H513.1V251.7H514.8V254.9H516.4V258.1H518.0V257.3H519.6V256.5H521.2V256.7H522.8V257.8H524.5V258.4H526.1V258.8H527.7V259.1H529.3V258.8H530.9V258.6H532.5V258.3H534.2V256.7H535.8V252.4H537.4V248.7H539.0V248.1H540.6V247.4H542.2V249.1H543.9V252.4H545.5V253.5H547.1V254.0H548.7V253.7H550.3V253.4H552.0V253.2H553.6V253.5H555.2V253.8H556.8V254.0H558.4V254.0H560.0V253.7H561.7V253.4H563.3V253.2H564.9V252.4H566.5V251.6H568.1V251.1H569.7V251.1H571.4V251.1H573.0V251.3H574.6V252.0H576.2V252.6H577.8V253.2H579.4V253.8H581.1V254.3H582.7V254.8H584.3V254.8H585.9V254.0H587.5V253.2H589.1V253.1H590.8V253.1H592.4V253.1H594.0V253.1H595.6V252.7H597.2V252.4H598.8V252.5H600.5V255.8H602.1V255.5H603.7V254.4H605.3V253.2H606.9V252.5H608.5V252.5H610.2V252.5H611.8V253.5H613.4V254.6H615.0V255.3H616.6V255.6H618.2V255.9H619.9V256.3H621.5V256.9H623.1V258.8H624.7V260.5H626.3V258.1H627.9V257.3H629.6V256.5H631.2V255.2H632.8V253.4H634.4V251.7H636.0V251.5H637.7V251.2H639.3V251.5H640.9V252.0H642.5V252.5H644.1V251.9H645.7V251.3H647.4V250.9H649.0V250.5H650.6V250.1H652.2V249.7H653.8V249.3H655.4V247.5H657.1V245.9H658.7V245.3H660.3V243.3H661.9V240.6H663.5V239.0H665.1V237.1H666.8V234.9H668.4V232.6H670.0V231.9H671.6V234.0H673.2V235.1H674.8V235.1H676.5V235.1H678.1V234.4H679.7V232.8H681.3V229.4H682.9V224.6H684.5V220.0H686.2V219.6H687.8V219.2H689.4V217.8H691.0V215.6H692.6V213.1H694.2V210.4H695.9V210.2H697.5V210.3H699.1V216.5H700.7V221.3H702.3V222.9H703.9V225.5H705.6V227.9H707.2V223.8H708.8V223.5H710.4V224.0H712.0V221.0H713.7V219.3H715.3V218.2H716.9V220.1H718.5V220.6H720.1V219.7H721.7V218.9H723.4V218.1H725.0V217.3H726.6V219.2H728.2V219.3H729.8V215.6H731.4V215.1H733.1V214.6H734.7V214.4H736.3V214.4H737.9V214.4H738.3V251.7H737.9V251.8H736.3V251.9H734.7V252.0H733.1V252.2H731.4V252.6H729.8V253.0H728.2V254.6H726.6V255.9H725.0V255.1H723.4V254.2H721.7V254.1H720.1V254.1H718.5V254.1H716.9V249.0H715.3V248.1H713.7V247.2H712.0V252.5H710.4V252.3H708.8V253.9H707.2V254.1H705.6V252.8H703.9V252.4H702.3V251.1H700.7V246.1H699.1V239.1H697.5V239.1H695.9V239.4H694.2V241.5H692.6V243.8H691.0V246.3H689.4V247.8H687.8V247.9H686.2V248.1H684.5V248.9H682.9V249.7H681.3V250.6H679.7V251.5H678.1V252.5H676.5V253.1H674.8V253.1H673.2V253.1H671.6V253.6H670.0V255.7H668.4V257.7H666.8V258.6H665.1V259.3H663.5V259.9H661.9V262.3H660.3V264.9H658.7V266.5H657.1V268.1H655.4V268.6H653.8V269.0H652.2V269.2H650.6V269.2H649.0V269.2H647.4V269.2H645.7V269.2H644.1V269.2H642.5V268.8H640.9V268.4H639.3V268.3H637.7V268.7H636.0V269.1H634.4V271.2H632.8V273.3H631.2V274.3H629.6V275.4H627.9V276.2H626.3V277.0H624.7V274.8H623.1V272.7H621.5V271.6H619.9V270.8H618.2V270.1H616.6V269.5H615.0V268.5H613.4V267.3H611.8V266.2H610.2V266.2H608.5V266.2H606.9V266.6H605.3V267.4H603.7V268.3H602.1V269.3H600.5V269.3H598.8V269.5H597.2V269.8H595.6V270.1H594.0V271.1H592.4V272.3H590.8V274.0H589.1V277.2H587.5V277.2H585.9V277.2H584.3V276.3H582.7V274.7H581.1V273.1H579.4V271.2H577.8V269.1H576.2V268.1H574.6V267.9H573.0V267.6H571.4V267.4H569.7V267.2H568.1V267.8H566.5V268.9H564.9V268.9H563.3V268.6H561.7V268.3H560.0V268.0H558.4V267.7H556.8V267.5H555.2V267.2H553.6V267.2H552.0V267.2H550.3V267.2H548.7V265.8H547.1V264.8H545.5V264.3H543.9V261.8H542.2V261.0H540.6V262.6H539.0V264.2H537.4V266.4H535.8V267.4H534.2V265.2H532.5V265.2H530.9V265.2H529.3V265.2H527.7V265.2H526.1V264.9H524.5V264.5H522.8V264.2H521.2V264.5H519.6V264.8H518.0V265.1H516.4V261.1H514.8V258.5H513.1V256.3H511.5V257.1H509.9V258.2H508.3V259.5H506.7V260.8H505.1V262.1H503.4V261.4H501.8V260.6H500.2V260.0H498.6V259.8H497.0V259.5H495.4V259.2H493.7V259.3H492.1V259.5H490.5V259.7H488.9V259.9H487.3V260.1H485.7V260.3H484.0V260.5H482.4V260.7H480.8V260.9H479.2V261.1H477.6V261.4H476.0V261.6H474.3V261.9H472.7V262.2H471.1V262.8H469.5V263.3H467.9V263.8H466.3V265.7H464.6V269.2H463.0V269.2H461.4V269.2H459.8V265.2H458.2V265.4H456.5V265.5H454.9V265.7H453.3V265.8H451.7V265.9H450.1V266.1H448.5V267.2H446.8V269.2H445.2V269.5H443.6V269.8H442.0V270.0H440.4V270.4H438.8V270.8H437.1V271.2H435.5V272.4H433.9V273.6H432.3V274.0H430.7V273.8H429.1V273.5H427.4V273.2H425.8V273.4H424.2V273.7H422.6V273.9H421.0V274.2H419.4V274.2H417.7V274.2H416.1V274.2H414.5V274.6H412.9V275.7H411.3V275.0H409.7V273.1H408.0V272.8H406.4V272.5H404.8V270.1H403.2V263.3H401.6V261.7H400.0V262.0H398.3V263.2H396.7V264.2H395.1V264.2H393.5V264.2H391.9V264.5H390.3V264.9H388.6V265.4H387.0V266.2H385.4V267.0H383.8V267.4H382.2V267.7H380.5V268.1H378.9V273.2H377.3V272.8H375.7V272.4H374.1V271.8H372.5V271.2H370.8V270.5H369.2V269.0H367.6V268.2H366.0V267.8H364.4Z" fill="#ffffff" stroke="#e040e0" stroke-opacity="0.6" stroke-width="0.7" stroke-linejoin="miter"/>
<path d="M159.0,332.6H160.6V331.2H162.3V333.0H163.9V335.4H165.5V335.4H167.1V335.4H168.7V335.4H170.3V335.4H172.0V337.2H170.3V337.2H168.7V337.2H167.1V337.2H165.5V337.2H163.9V334.8H162.3V333.0H160.6V332.6H159.0Z" fill="#ffffff" stroke="#e040e0" stroke-opacity="0.6" stroke-width="0.7" stroke-linejoin="miter"/>
<path d="M254.4,348.1H256.0V351.5H257.7V353.1H259.3V353.6H260.9V350.5H262.5V349.3H264.1V348.9H265.7V350.2H267.4V349.1H269.0V349.3H270.6V349.8H272.2V350.8H273.8V352.5H275.4V354.4H277.1V358.5H278.7V359.1H280.3V359.5H281.9V359.8H283.5V360.8H285.1V362.0H286.8V362.9H288.4V362.9H290.0V362.9H291.6V362.9H293.2V362.9H294.8V362.9H296.5V364.7H298.1V365.7H299.7V365.3H301.3V364.9H302.9V364.5H304.5V364.2H306.2V363.9H307.8V362.9H309.4V361.8H311.0V360.7H312.6V359.9H314.3V359.9H315.9V359.9H317.5V359.9H319.1V359.9H320.7V362.0H322.3V363.3H320.7V361.2H319.1V361.2H317.5V361.2H315.9V361.2H314.3V361.2H312.6V362.0H311.0V363.1H309.4V364.2H307.8V365.2H306.2V365.5H304.5V365.8H302.9V366.2H301.3V366.6H299.7V367.0H298.1V366.0H296.5V364.2H294.8V364.2H293.2V364.2H291.6V364.2H290.0V364.2H288.4V364.2H286.8V363.3H285.1V362.1H283.5V361.1H281.9V360.8H280.3V360.4H278.7V359.8H277.1V355.7H275.4V353.8H273.8V352.1H272.2V351.1H270.6V350.6H269.0V350.4H267.4V351.5H265.7V352.5H264.1V352.9H262.5V354.1H260.9V357.2H259.3V356.7H257.7V355.1H256.0V348.6H254.4Z" fill="#ffffff" stroke="#e040e0" stroke-opacity="0.6" stroke-width="0.7" stroke-linejoin="miter"/>
<path d="M341.7,355.9H343.4V357.1H345.0V358.3H346.6V361.7H348.2V363.7H349.8V361.6H351.4V361.6H353.1V360.2H354.7V360.2H356.3V361.0H357.9V361.6H359.5V361.6H361.1V361.6H362.8V359.5H364.4V363.1H362.8V365.2H361.1V365.2H359.5V365.2H357.9V364.6H356.3V363.8H354.7V363.8H353.1V365.2H351.4V365.2H349.8V365.2H348.2V363.2H346.6V359.8H345.0V358.6H343.4V357.4H341.7Z" fill="#ffffff" stroke="#e040e0" stroke-opacity="0.6" stroke-width="0.7" stroke-linejoin="miter"/>
<path d="M62.0,306.1 L65.0,302.1 L69.0,301.1 L72.0,302.5 L74.0,299.1 L76.0,298.1 L78.0,290.1 L80.1,285.1 L82.1,288.1 L85.1,281.1 L87.1,286.1 L90.1,285.1 L92.1,286.1 L95.1,292.1 L98.1,297.1 L100.1,295.1 L103.1,296.1 L106.1,299.1 L109.1,298.1 L113.1,300.1 L116.1,302.1 L119.1,305.1 L121.2,308.1 L124.2,307.1 L127.2,301.1 L129.2,300.1 L132.2,305.1 L135.2,304.1 L138.2,305.1 L142.2,300.1 L144.2,303.1 L146.2,308.1 L149.2,306.1 L152.2,311.1 L155.2,310.1 L158.2,312.1 L160.3,311.1 L162.3,318.1 L165.3,324.2 L168.3,320.2 L171.3,324.2 L175.3,319.1 L177.3,322.2 L180.3,319.1 L183.3,318.1 L186.3,319.1 L188.3,315.1 L192.3,314.1 L198.3,309.1 L200.4,310.1 L203.4,309.1 L206.4,306.5 L209.4,309.1 L211.4,326.2 L213.4,335.2 L216.4,336.2 L218.4,346.2 L219.0,349.2 L220.1,336.2 L221.1,334.2 L223.1,343.2 L225.1,340.2 L228.1,341.2 L231.1,340.2 L233.1,333.2 L235.1,330.2 L238.1,330.2 L240.1,333.2 L242.1,332.2 L243.1,335.2 L245.1,333.2 L248.1,332.2 L251.1,337.2 L253.1,341.2 L256.1,348.2 L258.1,350.2 L261.2,352.2 L263.2,348.2 L265.2,352.2 L268.2,344.2 L270.0,342.1 L273.0,339.1 L275.0,334.1 L278.0,339.1 L282.0,337.1 L286.0,337.1 L290.1,342.1 L292.1,339.1 L296.1,339.1 L299.1,340.1 L302.1,342.1 L306.1,342.1 L309.1,337.1 L312.1,338.1 L315.1,334.1 L319.1,332.1 L322.1,325.1 L325.1,310.0 L326.1,307.0 L329.1,307.0 L330.2,311.0 L332.2,302.0 L334.2,297.0 L335.6,293.6 L337.2,298.0 L339.2,299.0 L340.2,306.0 L341.2,318.0 L343.2,328.1 L346.2,330.1 L353.2,331.1 L355.2,326.1 L359.2,326.1 L361.2,327.1 L365.2,322.1 L368.2,324.1 L370.3,320.1 L374.3,321.1 L377.3,326.1 L380.3,324.1 L385.3,325.1 L390.3,326.1 L392.3,325.1 L394.3,328.1 L396.3,327.1 L398.3,318.0 L401.3,311.0 L403.3,317.0 L404.3,323.1 L407.3,324.1 L410.4,329.1 L413.4,334.1 L419.4,335.1 L421.4,333.1 L423.4,336.1 L426.4,334.1 L429.6,335.1 L429.6,335.1 L433.0,335.1 L436.0,331.1 L440.1,329.1 L443.1,327.1 L445.1,331.1 L448.1,328.1 L453.1,328.1 L456.1,326.1 L459.1,333.1 L461.1,337.1 L464.1,337.1 L468.1,332.1 L470.1,334.1 L473.1,332.1 L476.1,331.1 L479.1,327.1 L482.2,332.1 L485.2,333.1 L488.2,333.1 L491.2,325.1 L494.2,323.1 L497.2,323.1 L500.2,330.1 L502.2,336.1 L504.2,341.1 L509.2,340.1 L511.2,336.1 L513.2,336.1 L516.2,346.1 L519.2,346.1 L521.3,344.1 L523.3,348.1 L525.3,347.1 L527.3,351.7 L531.3,351.1 L533.3,352.1 L535.3,348.1 L538.3,336.1 L540.3,337.1 L543.3,334.1 L546.3,341.1 L549.3,339.1 L553.3,338.1 L556.3,340.1 L560.4,344.1 L564.4,343.1 L567.4,342.1 L568.4,339.1 L570.4,346.1 L573.4,341.1 L576.4,342.1 L579.6,340.1 L580.0,340.1 L583.0,345.1 L586.0,348.1 L589.0,344.1 L591.0,346.1 L594.0,344.1 L600.1,344.5 L602.1,348.1 L606.1,344.1 L610.1,342.1 L612.1,347.1 L615.1,346.1 L617.1,350.1 L621.1,351.1 L623.1,355.1 L625.1,359.1 L627.1,354.1 L629.1,356.1 L632.1,353.1 L636.1,347.1 L639.1,348.1 L641.2,353.1 L644.2,351.1 L647.2,349.1 L649.2,352.5 L656.2,353.1 L657.2,350.1 L660.2,355.1 L662.2,346.1 L665.2,345.1 L668.2,341.1 L670.2,337.1 L673.2,343.1 L676.2,341.1 L679.2,343.1 L682.3,341.1 L683.3,338.1 L685.3,340.1 L686.3,335.1 L690.3,335.1 L692.3,330.1 L695.3,320.1 L699.3,320.1 L701.3,332.1 L702.7,334.1 L705.3,327.1 L707.3,331.1 L710.3,329.1 L712.3,330.1 L714.3,324.1 L717.3,323.1 L718.3,330.1 L724.4,330.1 L725.4,327.1 L726.4,331.1 L729.4,317.0 L732.4,316.4 L734.4,318.0 L737.4,317.0" fill="none" stroke="#ffffff" stroke-width="1.5" stroke-linejoin="round"/>
<line x1="62.1" y1="197.8" x2="62.1" y2="436" stroke="#cfcfcf" stroke-width="1"/>
<line x1="61.6" y1="435.5" x2="738.6" y2="435.5" stroke="#e0e0e0" stroke-width="1"/>
<line x1="56.8" y1="207.4" x2="62.1" y2="207.4" stroke="#cfcfcf" stroke-width="1"/>
<text class="b" x="39.6" y="212.0" font-size="11.6" textLength="15.6" lengthAdjust="spacingAndGlyphs">30</text>
<line x1="56.8" y1="240.4" x2="62.1" y2="240.4" stroke="#cfcfcf" stroke-width="1"/>
<text class="b" x="39.6" y="245.0" font-size="11.6" textLength="15.6" lengthAdjust="spacingAndGlyphs">20</text>
<line x1="56.8" y1="273.4" x2="62.1" y2="273.4" stroke="#cfcfcf" stroke-width="1"/>
<text class="b" x="39.6" y="278.0" font-size="11.6" textLength="15.6" lengthAdjust="spacingAndGlyphs">10</text>
<line x1="56.8" y1="306.4" x2="62.1" y2="306.4" stroke="#cfcfcf" stroke-width="1"/>
<text class="b" x="47.6" y="311.0" font-size="11.6" textLength="7.6" lengthAdjust="spacingAndGlyphs">0</text>
<line x1="56.8" y1="339.4" x2="62.1" y2="339.4" stroke="#cfcfcf" stroke-width="1"/>
<text class="b" x="31.9" y="344.0" font-size="11.6" textLength="23.3" lengthAdjust="spacingAndGlyphs">−10</text>
<line x1="56.8" y1="372.4" x2="62.1" y2="372.4" stroke="#cfcfcf" stroke-width="1"/>
<text class="b" x="31.9" y="377.0" font-size="11.6" textLength="23.3" lengthAdjust="spacingAndGlyphs">−20</text>
<line x1="56.8" y1="405.4" x2="62.1" y2="405.4" stroke="#cfcfcf" stroke-width="1"/>
<text class="b" x="31.9" y="410.0" font-size="11.6" textLength="23.3" lengthAdjust="spacingAndGlyphs">−30</text>
<line x1="62.5" y1="435.5" x2="62.5" y2="440.5" stroke="#e0e0e0" stroke-width="1"/>
<text class="b" x="33.9" y="454.5" font-size="11.8" textLength="58.2" lengthAdjust="spacingAndGlyphs">Jan 2025</text>
<line x1="158" y1="435.5" x2="158" y2="440.5" stroke="#e0e0e0" stroke-width="1"/>
<text class="b" x="128.4" y="454.5" font-size="11.8" textLength="60.3" lengthAdjust="spacingAndGlyphs">Mar 2025</text>
<line x1="256" y1="435.5" x2="256" y2="440.5" stroke="#e0e0e0" stroke-width="1"/>
<text class="b" x="225.6" y="454.5" font-size="11.8" textLength="61.8" lengthAdjust="spacingAndGlyphs">May 2025</text>
<line x1="354" y1="435.5" x2="354" y2="440.5" stroke="#e0e0e0" stroke-width="1"/>
<text class="b" x="326.4" y="454.5" font-size="11.8" textLength="56.1" lengthAdjust="spacingAndGlyphs">Jul 2025</text>
<line x1="454.5" y1="435.5" x2="454.5" y2="440.5" stroke="#e0e0e0" stroke-width="1"/>
<text class="b" x="424.6" y="454.5" font-size="11.8" textLength="60.8" lengthAdjust="spacingAndGlyphs">Sep 2025</text>
<line x1="553" y1="435.5" x2="553" y2="440.5" stroke="#e0e0e0" stroke-width="1"/>
<text class="b" x="522.9" y="454.5" font-size="11.8" textLength="61.3" lengthAdjust="spacingAndGlyphs">Nov 2025</text>
<line x1="651" y1="435.5" x2="651" y2="440.5" stroke="#e0e0e0" stroke-width="1"/>
<text class="b" x="622.4" y="454.5" font-size="11.8" textLength="58.2" lengthAdjust="spacingAndGlyphs">Jan 2026</text>
<text class="b" transform="translate(26,373.6) rotate(-90)" font-size="14.5" textLength="115.3" lengthAdjust="spacingAndGlyphs">USD per Barrel</text>
<line x1="61.3" y1="163.8" x2="82.5" y2="163.8" stroke="#fff" stroke-width="2"/>
<text class="b" x="91.3" y="166.9" font-size="11.6" stroke="#fff" stroke-width="0.25" textLength="213.7" lengthAdjust="spacingAndGlyphs">Overall Change (Jan 01, 2025 = 0)</text>
<rect x="322.5" y="159.4" width="15.5" height="7.8" fill="#3a8ad0"/>
<path d="M325.5,161.2v3.4M323.8,162.9h3.4" stroke="#9fd0ff" stroke-width="0.9"/>
<text class="b" x="340" y="166.9" font-size="11.6" stroke="#fff" stroke-width="0.25" textLength="134.4" lengthAdjust="spacingAndGlyphs">Demand Contribution</text>
<rect x="490.3" y="159.4" width="17.2" height="7.8" fill="#c412c4"/>
<path d="M494,161.2v3.4M492.3,162.9h3.4" stroke="#ff9cff" stroke-width="0.9"/>
<text class="b" x="509" y="166.9" font-size="11.6" stroke="#fff" stroke-width="0.25" textLength="191.6" lengthAdjust="spacingAndGlyphs">Geopolitical Risk Contribution</text>
<rect x="61.3" y="182" width="15.7" height="8.5" fill="#c9821a"/>
<path d="M65,184v3.6M63.2,185.8h3.6" stroke="#ffd08a" stroke-width="0.9"/>
<text class="b" x="78.8" y="190" font-size="11.6" stroke="#fff" stroke-width="0.25" textLength="165" lengthAdjust="spacingAndGlyphs">Other Supply Contribution</text>
<line x1="544" y1="213.3" x2="707" y2="212.5" stroke="#45a3c7" stroke-width="1.8"/>
<path d="M705.6,206.2 L717.8,212.5 L705.6,218.6 Z" fill="#45a3c7"/>
<rect x="265.3" y="174.2" width="274.5" height="57.4" fill="#dcdcdc" stroke="#45a5ca" stroke-width="1.9"/>
<g font-family="Liberation Sans, sans-serif" font-size="15.65" fill="#1a1a1a">
<text x="285" y="190" textLength="232.5" lengthAdjust="spacingAndGlyphs">Oil prices that trended lower have</text>
<text x="270.8" y="208.2" textLength="263.6" lengthAdjust="spacingAndGlyphs">been climbing this year amid renewed</text>
<text x="343.9" y="226.4" textLength="115.5" lengthAdjust="spacingAndGlyphs">US-Iran tensions</text>
</g>
</g>
<g class="v" font-size="11.3" fill="#fff" stroke="#fff" stroke-width="0.3">
<text x="50" y="500.2" textLength="125" lengthAdjust="spacingAndGlyphs">Powered by BQuant</text>
<text x="50" y="512.2" textLength="51.3" lengthAdjust="spacingAndGlyphs">View on</text>
<text x="105" y="512.2" fill="#ff8c00" stroke="#ff8c00" textLength="195" lengthAdjust="spacingAndGlyphs">BECO MODELS DRIVERS &lt;GO&gt;</text>
<text x="305" y="512.2" textLength="10" lengthAdjust="spacingAndGlyphs">→</text>
<text x="320" y="512.2" textLength="17" lengthAdjust="spacingAndGlyphs">Oil</text>
</g>
</svg></body></html>
